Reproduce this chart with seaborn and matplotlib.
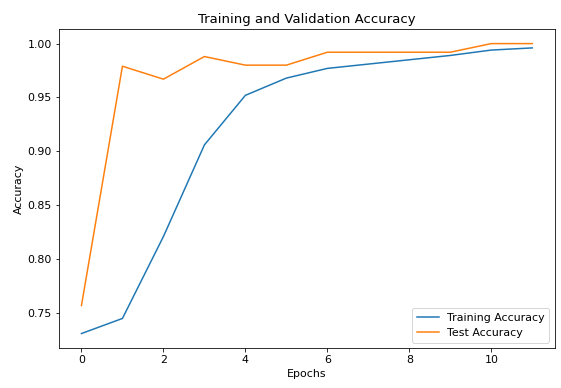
import pandas as pd
import seaborn as sns
import matplotlib.pyplot as plt

epochs = list(range(12))
train_acc = [0.731, 0.745, 0.821, 0.906, 0.952, 0.968, 0.977, 0.981, 0.985, 0.989, 0.994, 0.996]
test_acc = [0.757, 0.979, 0.967, 0.988, 0.980, 0.980, 0.992, 0.992, 0.992, 0.992, 1.000, 1.000]

df = pd.DataFrame({
    'Epochs': epochs * 2,
    'Accuracy': train_acc + test_acc,
    'series': ['Training Accuracy'] * len(epochs) + ['Test Accuracy'] * len(epochs),
})

plt.rcParams['font.size'] = 11

fig = plt.figure(figsize=(561 / 72, 388 / 72), dpi=72)
ax = fig.add_subplot(111)
fig.subplots_adjust(left=0.105, right=0.989, top=0.925, bottom=0.103)

sns.lineplot(data=df, x='Epochs', y='Accuracy', hue='series',
             palette=['tab:blue', 'tab:orange'], ax=ax)

ax.set_title('Training and Validation Accuracy')
ax.set_xlabel('Epochs')
ax.set_ylabel('Accuracy')
ax.legend(loc='lower right')

plt.savefig('out.png', dpi=72)
